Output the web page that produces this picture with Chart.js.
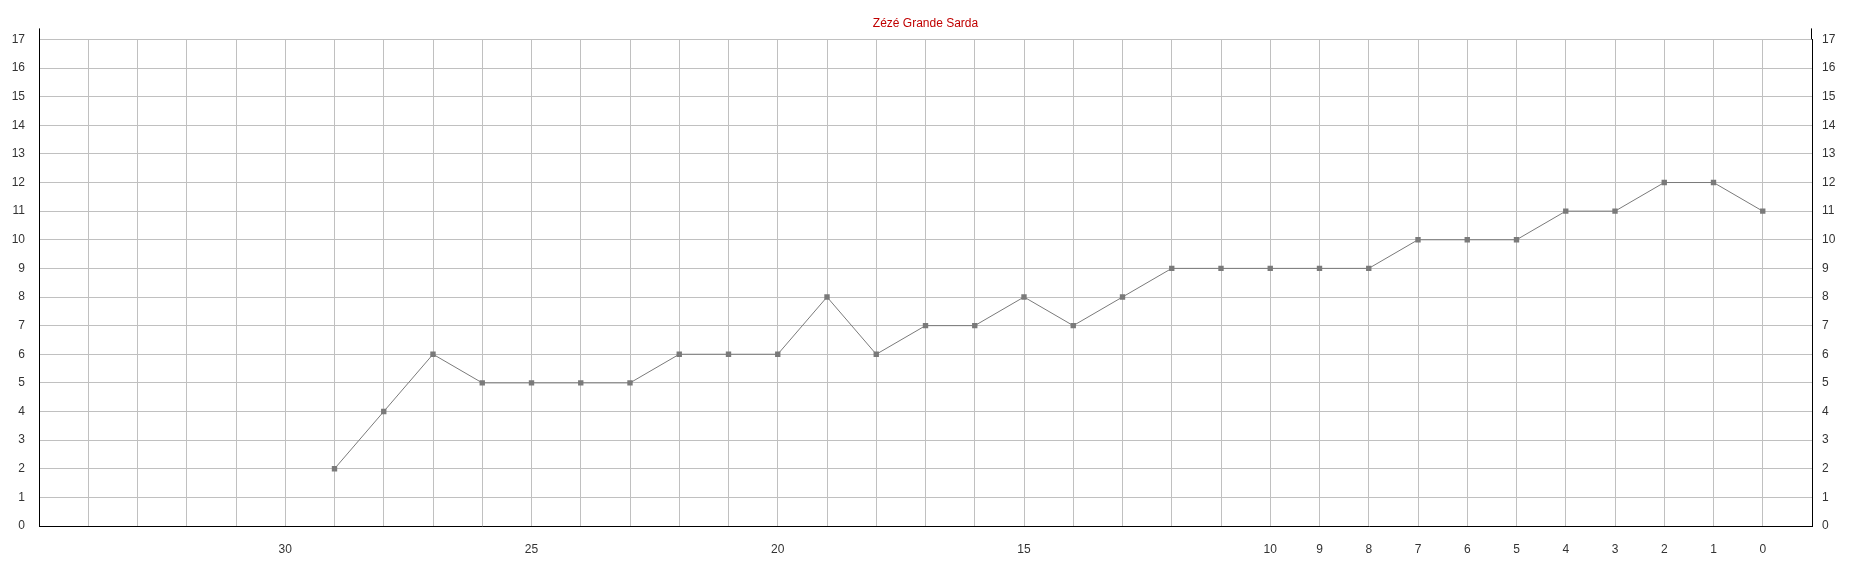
<!DOCTYPE html>
<html>
<head>
<meta charset="utf-8">
<script src="https://cdn.jsdelivr.net/npm/chart.js@4/dist/chart.umd.min.js"></script>
<style>
  body { margin: 0; background: #fff; }
  #wrap { width: 1851px; height: 566px; position: relative; }
</style>
</head>
<body>
<div id="wrap"><canvas id="myChart"></canvas></div>
<script>
// rounds before the present (0 = latest)
const rounds = [29, 28, 27, 26, 25, 24, 23, 22, 21, 20, 19, 18, 17, 16, 15, 14, 13, 12, 11, 10, 9, 8, 7, 6, 5, 4, 3, 2, 1, 0];
const scores = [2, 4, 6, 5, 5, 5, 5, 6, 6, 6, 8, 6, 7, 7, 8, 7, 8, 9, 9, 9, 9, 9, 10, 10, 10, 11, 11, 12, 12, 11];
const xTickLabels = [30, 25, 20, 15, 10, 9, 8, 7, 6, 5, 4, 3, 2, 1, 0];
const yMin = 0, yMax = 17;

const font = { family: 'Liberation Sans', size: 12 };
const gridColor = '#c0c0c0';

// the black axis lines run a little past the top grid line
const axisExtend = {
    id: 'axisExtend',
    afterDraw(chart) {
        const { ctx, chartArea } = chart;
        ctx.save();
        ctx.strokeStyle = '#000';
        ctx.lineWidth = 1;
        ctx.beginPath();
        ctx.moveTo(chartArea.left + 0.5, chartArea.top - 11);
        ctx.lineTo(chartArea.left + 0.5, chartArea.top);
        ctx.moveTo(chartArea.right - 0.5, chartArea.top - 11);
        ctx.lineTo(chartArea.right - 0.5, chartArea.top);
        ctx.stroke();
        ctx.restore();
    }
};

const ctx = document.getElementById('myChart').getContext('2d');
const myChart = new Chart(ctx, {
    type: 'line',
    data: {
        datasets: [{
            label: 'Zézé Grande Sarda',
            data: rounds.map((r, i) => ({ x: r, y: scores[i] })),
            borderColor: '#7a7a7a',
            borderWidth: 1,
            pointStyle: 'rect',
            pointRadius: 3.8,
            pointBorderWidth: 0,
            pointBackgroundColor: '#7a7a7a',
            pointBorderColor: '#7a7a7a',
            tension: 0
        }]
    },
    options: {
        responsive: true,
        maintainAspectRatio: false,
        animation: false,
        layout: { padding: 0 },
        plugins: {
            legend: { display: false },
            tooltip: { enabled: false },
            title: {
                display: true,
                text: 'Zézé Grande Sarda',
                color: '#c00000',
                font: { family: 'Liberation Sans', size: 12, weight: 'normal' },
                padding: { top: 16, bottom: 9 }
            }
        },
        scales: {
            x: {
                type: 'linear',
                reverse: true,
                min: -1,
                max: 35,
                grid: { color: gridColor, drawTicks: false },
                border: { color: '#000', width: 1 },
                ticks: {
                    stepSize: 1,
                    autoSkip: false,
                    maxRotation: 0,
                    padding: 16,
                    color: '#333',
                    font: font,
                    callback: v => xTickLabels.includes(v) ? String(v) : ''
                },
                afterFit: s => { s.height = 40; }
            },
            y: {
                position: 'left',
                min: yMin,
                max: yMax,
                grid: { color: gridColor, drawTicks: false },
                border: { color: '#000', width: 1 },
                ticks: { stepSize: 1, padding: 14, color: '#333', font: font },
                afterFit: s => { s.width = 39; }
            },
            y2: {
                position: 'right',
                min: yMin,
                max: yMax,
                grid: { drawOnChartArea: false, drawTicks: false },
                border: { color: '#000', width: 1 },
                ticks: { stepSize: 1, padding: 10, color: '#333', font: font },
                afterFit: s => { s.width = 39; }
            }
        }
    },
    plugins: [axisExtend]
});
</script>
</body>
</html>
